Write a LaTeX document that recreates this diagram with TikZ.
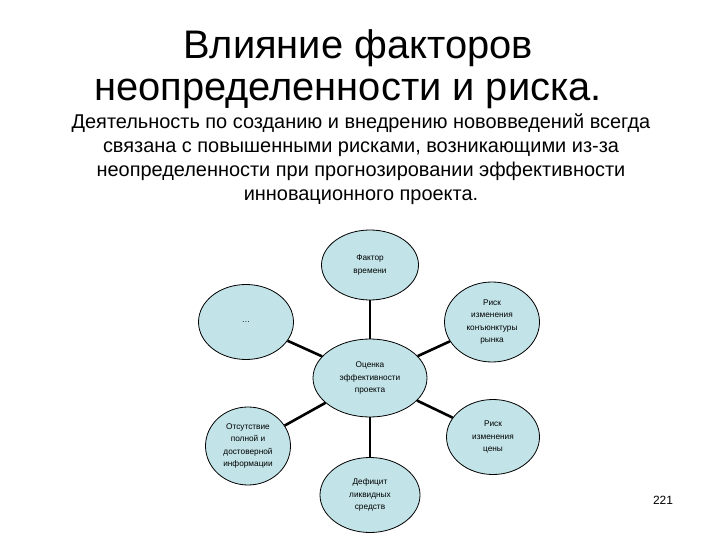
\documentclass[tikz,border=0pt]{standalone}
\usepackage{fontspec}
\setmainfont{Liberation Sans}
\usetikzlibrary{shapes.geometric}
\definecolor{bubble}{RGB}{194,228,232}

\begin{document}
\begin{tikzpicture}[x=1bp, y=-1bp,
	factor/.style={ellipse, draw, line width=0.8bp, fill=bubble, inner sep=0pt, align=center, font=\fontsize{8.3}{12.5}\selectfont},
	link/.style={line width=2.6bp}]
	\useasboundingbox (0,0) rectangle (720,540);
	
	\node[font=\fontsize{40}{42}\selectfont, anchor=base] (title1) at (358,59){Влияние факторов};
	\node[font=\fontsize{40}{42}\selectfont, anchor=base] (title2) at (348,101){неопределенности и риска.};
	\node[font=\fontsize{20}{24.3}\selectfont, align=center] (intro) at (361,159){Деятельность по созданию и внедрению нововведений всегда\\связана с повышенными рисками, возникающими из-за\\неопределенности при прогнозировании эффективности\\инновационного проекта.};
	
	\node[factor, minimum width=114bp, minimum height=78bp] (eval) at (370,378){Оценка\\эффективности\\проекта};
	\node[factor, minimum width=97bp, minimum height=70bp] (time) at (370,265){Фактор\\времени};
	\node[factor, minimum width=95bp, minimum height=80bp] (market) at (492,322){Риск\\изменения\\конъюнктуры\\рынка};
	\node[factor, minimum width=93bp, minimum height=75bp] (price) at (493,437){Риск\\изменения\\цены};
	\node[factor, minimum width=100bp, minimum height=75bp] (cash) at (370,495){Дефицит\\ликвидных\\средств};
	\node[factor, minimum width=85bp, minimum height=78bp] (info) at (248,446){Отсутствие\\полной и\\достоверной\\информации};
	\node[factor, minimum width=95bp, minimum height=75bp] (other) at (246,322){\dots};
	
	\draw[link] (eval) -- (time);
	\draw[link] (eval) -- (market);
	\draw[link] (eval) -- (price);
	\draw[link] (eval) -- (cash);
	\draw[link] (eval) -- (info);
	\draw[link] (eval) -- (other);
	
	\node[font=\fontsize{12}{12}\selectfont] (page) at (663,500){221};
\end{tikzpicture}
\end{document}
